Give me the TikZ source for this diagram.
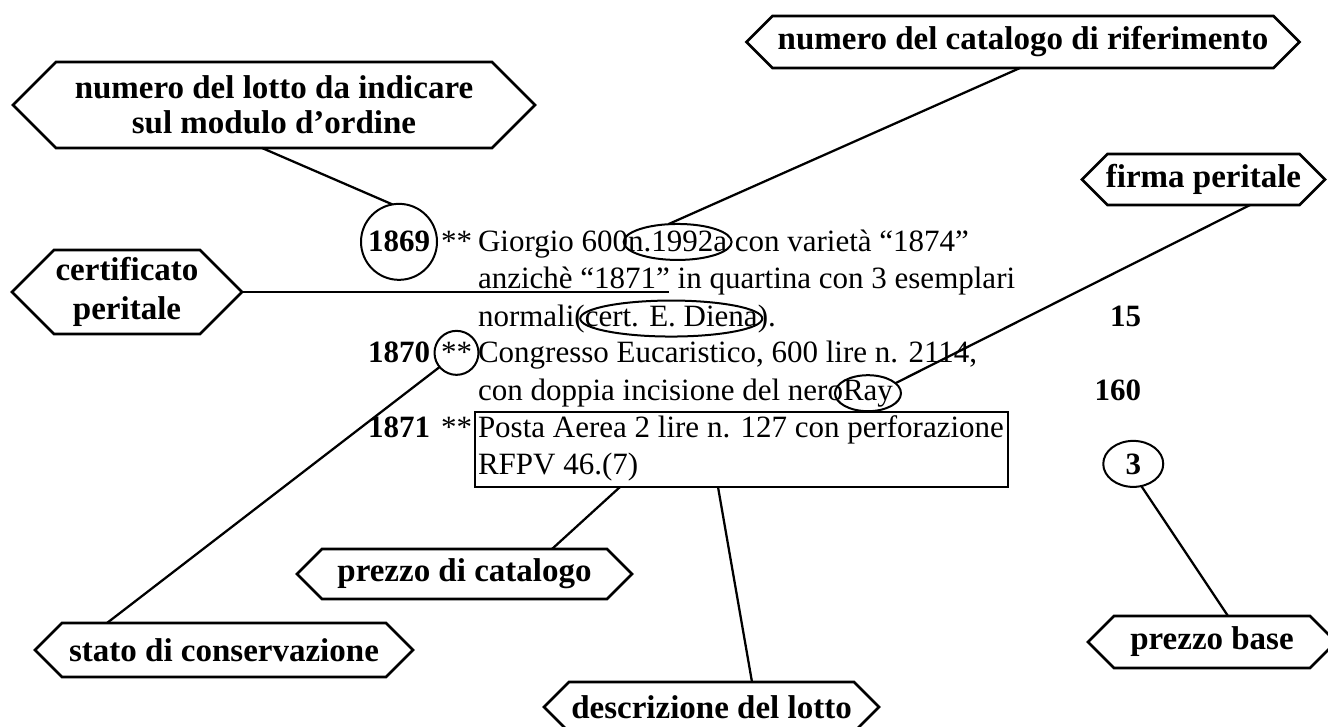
\documentclass[tikz,border=0pt]{standalone}
\usepackage{fontspec}
\setmainfont{Liberation Serif}
\usetikzlibrary{shapes.geometric,calc}
\newdimen\px \px=0.75pt
\newcommand\bodyfont{\fontsize{23.25pt}{27.75pt}\selectfont}
\newcommand\lblfont{\fontsize{24.75pt}{26.5pt}\selectfont\bfseries}
\newcommand\hexframe[2]{\draw[hexline] (#1.west) -- ([xshift=#2]#1.north west) -- ([xshift=-#2]#1.north east) -- (#1.east) -- ([xshift=-#2]#1.south east) -- ([xshift=#2]#1.south west) -- cycle;}
\begin{document}
\begin{tikzpicture}[x=0.75pt,y=-0.75pt,
  lbl/.style={inner sep=0pt, outer sep=0pt, align=center, font=\lblfont},
  hexline/.style={line width=1.9pt, line join=miter},
  txt/.style={inner sep=0pt, outer sep=0pt, anchor=base west, font=\bodyfont},
  num/.style={inner sep=0pt, outer sep=0pt, anchor=base east, font=\bodyfont\bfseries},
  ring/.style={draw, ellipse, line width=1.5pt, inner sep=0pt, outer sep=0pt},
  link/.style={line width=1.7pt},
  lotbox/.style={draw, line width=1.6pt, inner sep=0pt, outer sep=0pt}]

\fill[white] (0,0) rectangle (1328,727);
\useasboundingbox (0,0) rectangle (1328,727);

% ---- labels
\node[lbl, minimum width=522\px, minimum height=86\px] (lotto) at (274,105) {numero del lotto da indicare\\sul modulo d’ordine};
\hexframe{lotto}{43\px}
\node[lbl, minimum width=553\px, minimum height=52\px] (catalogo) at (1023,42) {numero del catalogo di riferimento};
\hexframe{catalogo}{26\px}
\node[lbl, minimum width=243\px, minimum height=51\px] (firma) at (1203.5,179.5) {firma peritale};
\hexframe{firma}{25.5\px}
\node[lbl, minimum width=230\px, minimum height=84\px] (certif) at (127,292) {certificato\\[3pt]peritale};
\hexframe{certif}{42\px}
\node[lbl, minimum width=335\px, minimum height=50\px] (pcat) at (464.5,574) {prezzo di catalogo};
\hexframe{pcat}{25\px}
\node[lbl, minimum width=378\px, minimum height=54\px] (stato) at (224,650) {stato di conservazione};
\hexframe{stato}{27\px}
\node[lbl, minimum width=335\px, minimum height=50\px] (descr) at (711.5,707) {descrizione del lotto};
\hexframe{descr}{25\px}
\node[lbl, minimum width=248\px, minimum height=52\px] (pbase) at (1212,642) {prezzo base};
\hexframe{pbase}{26\px}

% ---- catalogue text
\node[num] (n1869) at (430,252) {1869};
\node[txt] (s1) at (441,252) {**};
\node[txt] (l1a) at (478,252) {Giorgio 600\ };
\node[txt] (n1992) at (l1a.base east) {n.1992a};
\node[txt] (l1c) at (n1992.base east) {\ con varietà “1874”};

\node[txt] (l2) at (478,289) {anzichè “1871” in quartina con 3 esemplari};

\node[txt] (l3a) at (478,326) {normali\ };
\node[txt] (cert) at (l3a.base east) {(cert. E. Diena)};
\node[txt] (l3c) at (cert.base east) {.};
\node[num] (p15) at (1141,326) {15};

\node[num] (n1870) at (430,363) {1870};
\node[txt] (s2) at (441,363) {**};
\node[txt] (l4) at (478,363) {Congresso Eucaristico, 600 lire n. 2114,};

\node[txt] (l5a) at (478,400) {con doppia incisione del nero\ };
\node[txt] (ray) at (l5a.base east) {Ray};
\node[num] (p160) at (1141,400) {160};

\node[num] (n1871) at (430,437) {1871};
\node[txt] (s3) at (441,437) {**};
\node[txt] (l6) at (478,437) {Posta Aerea 2 lire n. 127 con perforazione};
\node[txt] (l7) at (478,474) {RFPV 46.(7)};
\node[num] (p3) at (1141,474) {3};

\node[lotbox, minimum width=533\px, minimum height=75\px] (descbox) at (741.5,449.5) {};

% ---- rings
\node[ring, minimum width=76\px, minimum height=76\px] (c1869) at (n1869.center) {};
\node[ring, minimum width=108\px, minimum height=36\px] (e1992) at (n1992.center) {};
\node[ring, minimum width=182\px, minimum height=36\px] (ecert) at (cert.center) {};
\node[ring, minimum width=44\px, minimum height=44\px] (cstar) at (s2.center) {};
\node[ring, minimum width=66\px, minimum height=36\px] (eray) at (ray.center) {};
\node[ring, minimum width=60\px, minimum height=46\px] (c3) at (p3.center) {};

\coordinate (certend) at (669,292);

% ---- connectors
\draw[link] ($(lotto.south)+(-12,0)$) -- (c1869.100);
\draw[link] ($(catalogo.south)+(-3,0)$) -- (e1992.118);
\draw[link] ($(firma.south)+(46.5,0)$) -- (eray.20);
\draw[link] (certif.east) -- (certend);
\draw[link] (cstar.220) -- ($(stato.north)+(-117,0)$);
\draw[link] ($(descbox.south west)+(145,0)$) -- ($(pcat.north)+(87.5,0)$);
\draw[link] ($(descbox.south west)+(243,0)$) -- ($(descr.north)+(40.5,0)$);
\draw[link] (c3.-70) -- ($(pbase.north)+(16,0)$);
\end{tikzpicture}
\end{document}
